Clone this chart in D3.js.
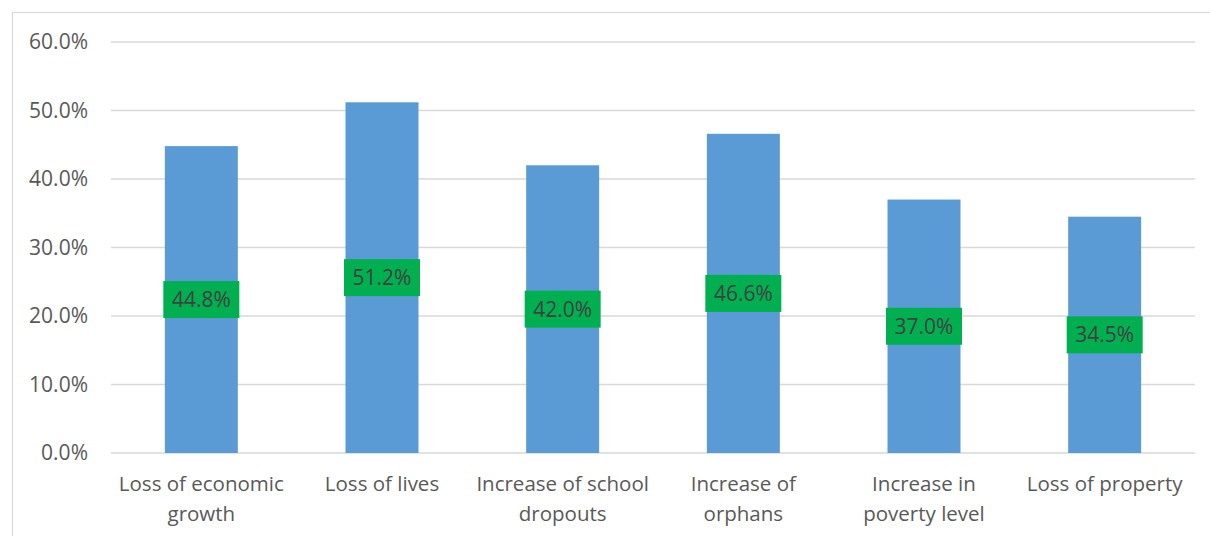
<!DOCTYPE html>
<html><head><meta charset="utf-8">
<script src="https://cdn.jsdelivr.net/npm/d3@7"></script>
<style>body{margin:0;background:#fff}svg{display:block}</style>
</head><body>
<script>
const categories = [["Loss of economic","growth"],["Loss of lives"],["Increase of school","dropouts"],["Increase of","orphans"],["Increase in","poverty level"],["Loss of property"]];
const values = [0.448, 0.512, 0.420, 0.466, 0.370, 0.345];
const yTicks = [0, 0.1, 0.2, 0.3, 0.4, 0.5, 0.6];

(function () {
const W = 1210, H = 536;
const svg = d3.select("body").append("svg").attr("width", W).attr("height", H);
const font = "'Open Sans', sans-serif";

svg.append("rect").attr("x", 12.5).attr("y", 12.5).attr("width", W + 10).attr("height", H + 10)
  .attr("fill", "none").attr("stroke", "#d9d9d9").attr("stroke-width", 1.2);

const pl = 111, pr = 1195, pt = 42, pb = 453;
const x = d3.scaleBand().domain(d3.range(categories.length)).range([pl, pr]).paddingInner(0.596).paddingOuter(0.298);
const y = d3.scaleLinear().domain([0, 0.6]).range([pb, pt]);

svg.append("g").selectAll("line").data(yTicks).join("line")
  .attr("x1", pl).attr("x2", pr).attr("y1", d => y(d)).attr("y2", d => y(d))
  .attr("stroke", "#d9d9d9").attr("stroke-width", 1.5);

svg.append("g").selectAll("text").data(yTicks).join("text")
  .attr("x", 88).attr("y", d => y(d)).attr("dy", "0.35em").attr("text-anchor", "end")
  .attr("font-family", font).attr("font-size", 21).attr("fill", "#595959")
  .text(d => d3.format(".1%")(d));

svg.append("g").selectAll("rect").data(values).join("rect")
  .attr("x", (d, i) => x(i)).attr("width", x.bandwidth())
  .attr("y", d => y(d)).attr("height", d => pb - y(d)).attr("fill", "#5b9bd5");

const lab = svg.append("g").selectAll("g").data(values).join("g")
  .attr("transform", (d, i) => `translate(${x(i) + x.bandwidth() / 2},${y(d / 2)})`);
lab.append("rect").attr("x", -38).attr("y", -18.5).attr("width", 76).attr("height", 37).attr("fill", "#00b050");
lab.append("text").attr("text-anchor", "middle").attr("dy", "0.36em")
  .attr("font-family", font).attr("font-size", 21).attr("fill", "#404040")
  .text(d => d3.format(".1%")(d));

const cat = svg.append("g").selectAll("text").data(categories).join("text")
  .attr("x", (d, i) => x(i) + x.bandwidth() / 2).attr("y", 491).attr("text-anchor", "middle")
  .attr("font-family", font).attr("font-size", 20.5).attr("fill", "#595959");
cat.selectAll("tspan").data(d => d).join("tspan")
  .attr("x", function () { return this.parentNode.getAttribute("x"); })
  .attr("dy", (d, i) => i === 0 ? 0 : 30).text(d => d);
})();
</script>
</body></html>
